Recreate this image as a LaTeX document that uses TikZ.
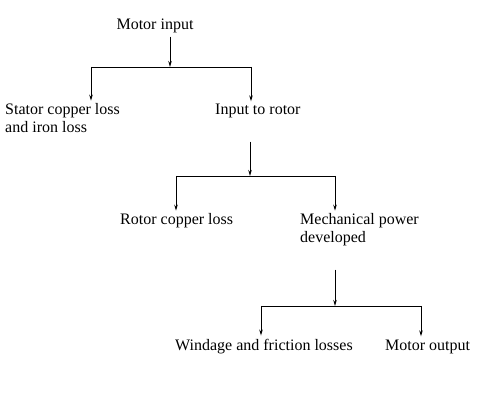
\documentclass[tikz,border=0pt]{standalone}
\usepackage{fontspec}
\setmainfont{Liberation Serif}
\usetikzlibrary{arrows.meta}
\begin{document}
\begin{tikzpicture}[x=1pt,y=-1pt,
    lbl/.style={inner sep=3pt, font=\fontsize{16}{18}\selectfont},
    flow/.style={line width=0.9pt},
    >={Stealth[length=6pt,width=3.5pt]}]
    \useasboundingbox (0,0) rectangle (485,414);

    % text (two-line nodes sit on their last line)
    \node[lbl, anchor=base] (in) at (155,30) {Motor input};
    \node[lbl, anchor=base west, align=left] (stator) at (2,133) {Stator copper loss\\and iron loss};
    \node[lbl, anchor=base west] (rotorin) at (212,115) {Input to rotor};
    \node[lbl, anchor=base west] (rcu) at (117,225) {Rotor copper loss};
    \node[lbl, anchor=base west, align=left] (mech) at (297,243) {Mechanical power\\developed};
    \node[lbl, anchor=base west] (wind) at (172,350) {Windage and friction losses};
    \node[lbl, anchor=base west] (out) at (382,350) {Motor output};

    % branch points
    \coordinate (j1) at (170,67);
    \coordinate (j1l) at (91,67);
    \coordinate (j1r) at (251,67);
    \coordinate (j2) at (250,176);
    \coordinate (j2l) at (176,176);
    \coordinate (j2r) at (335,176);
    \coordinate (j3) at (335,306);
    \coordinate (j3l) at (261,306);
    \coordinate (j3r) at (421,306);

    % first split
    \draw[flow,->] (j1 |- in.south) -- (j1);
    \draw[flow] (j1l) -- (j1r);
    \draw[flow,->] (j1l) -- (j1l |- stator.north);
    \draw[flow,->] (j1r) -- (j1r |- rotorin.north);

    % second split
    \draw[flow,->,shorten <=20pt] (rotorin.south -| j2) -- (j2);
    \draw[flow] (j2l) -- (j2r);
    \draw[flow,->] (j2l) -- (j2l |- rcu.north);
    \draw[flow,->] (j2r) -- (j2r |- mech.north);

    % third split
    \draw[flow,->,shorten <=20pt] (mech.south -| j3) -- (j3);
    \draw[flow] (j3l) -- (j3r);
    \draw[flow,->] (j3l) -- (j3l |- wind.north);
    \draw[flow,->] (j3r) -- (j3r |- out.north);
\end{tikzpicture}
\end{document}
